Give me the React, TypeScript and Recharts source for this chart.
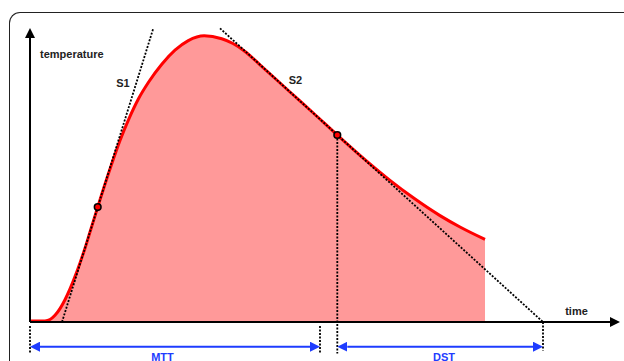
import React from 'react';
import { ComposedChart, Area, Line, XAxis, YAxis, ReferenceLine, ReferenceDot } from 'recharts';

// Thermodilution-like curve (time, temperature in arbitrary units)
const curveTime = [0, 1, 1.5, 2, 2.5, 3, 3.5, 4, 4.5, 5, 5.5, 6, 6.77, 8.1, 9.0, 9.9, 10.85, 11.85, 13.2, 14.5, 15.83, 17.42, 19.17, 20.3, 21.5, 23, 26, 28.33, 30.73, 33.67, 36, 38.33, 41, 43, 45.5];
const curveTemp = [0.03, 0.03, 0.035, 0.083, 0.223, 0.447, 0.743, 1.103, 1.513, 1.97, 2.46, 3.0, 3.83, 5.2, 6.05, 6.78, 7.44, 7.99, 8.6, 9.06, 9.38, 9.54, 9.44, 9.283, 9.017, 8.573, 7.667, 6.967, 6.233, 5.363, 4.722, 4.139, 3.546, 3.166, 2.753];

// Tangent lines S1 (upslope) and S2 (downslope)
const s1Time = [3.2, 12.33];
const s1Temp = [0, 9.79];
const s2Time = [19, 51.3];
const s2Temp = [9.79, 0];

// Tangent points
const tangentPointTime = [6.77, 30.73];
const tangentPointTemp = [3.83, 6.233];

// Intervals: MTT and DST
const mttRange = [0, 29];
const dstRange = [30.73, 51.3];
const intervalLabels = ['MTT', 'DST'];

// Axis extents
const timeMax = 59;
const tempMin = -1.3;
const tempMax = 10;
const xAxisEnd = 58;
const yAxisEnd = 9.467;
const arrowLevel = -0.823;
const guideBottom = -1.05;
const head = 1.0;

const curveData = curveTime.map((t, i) => ({ t, v: curveTemp[i] }));
const s1Data = s1Time.map((t, i) => ({ t, v: s1Temp[i] }));
const s2Data = s2Time.map((t, i) => ({ t, v: s2Temp[i] }));

const guides = [
  [{ t: mttRange[0], v: -0.13 }, { t: mttRange[0], v: guideBottom }],
  [{ t: mttRange[1], v: -0.13 }, { t: mttRange[1], v: guideBottom }],
  [{ t: dstRange[0], v: tangentPointTemp[1] }, { t: dstRange[0], v: guideBottom }],
  [{ t: dstRange[1], v: 0 }, { t: dstRange[1], v: -0.95 }],
];

const BLUE = '#1E3CFF';
const FONT = '"Liberation Sans", Arial, sans-serif';
const dotted = { stroke: '#000', strokeWidth: 1.8, strokeDasharray: '2 1.5' };

export default function App() {
  return (
    <div style={{ position: 'absolute', left: 0, top: 0, width: 624, height: 361, overflow: 'hidden', background: '#fff' }}>
      <div
        style={{
          position: 'absolute',
          left: 9,
          top: 12,
          width: 800,
          height: 500,
          borderTop: '1.5px solid #222',
          borderLeft: '1.5px solid #222',
          borderTopLeftRadius: 11,
          boxSizing: 'border-box',
        }}
      />
      <div style={{ position: 'absolute', left: 0, top: 0 }}>
        <ComposedChart width={624} height={361} margin={{ top: 22, right: 4, bottom: 0, left: 30 }}>
          <defs>
            <marker id="arrBlack" viewBox="0 0 10 10" refX="0" refY="5" markerWidth="10" markerHeight="10" markerUnits="userSpaceOnUse" orient="auto-start-reverse">
              <path d="M0,0 L10,5 L0,10 z" fill="#000" />
            </marker>
            <marker id="arrBlue" viewBox="0 0 10 10" refX="0" refY="5" markerWidth="10" markerHeight="10" markerUnits="userSpaceOnUse" orient="auto-start-reverse">
              <path d="M0,0 L10,5 L0,10 z" fill={BLUE} />
            </marker>
          </defs>
          <XAxis type="number" dataKey="t" domain={[0, timeMax]} hide />
          <YAxis type="number" domain={[tempMin, tempMax]} hide />
          <Area
            data={curveData}
            dataKey="v"
            type="monotone"
            baseValue={0}
            fill="#FF9999"
            fillOpacity={1}
            stroke="#FF0000"
            strokeWidth={3}
            isAnimationActive={false}
            dot={false}
            activeDot={false}
          />
          <ReferenceLine segment={[{ x: 0, y: 0 }, { x: xAxisEnd, y: 0 }]} stroke="#000" strokeWidth={2} markerEnd="url(#arrBlack)" ifOverflow="visible" />
          <ReferenceLine segment={[{ x: 0, y: 0 }, { x: 0, y: yAxisEnd }]} stroke="#000" strokeWidth={2} markerEnd="url(#arrBlack)" ifOverflow="visible" />
          <Line data={s1Data} dataKey="v" type="linear" dot={false} activeDot={false} isAnimationActive={false} {...dotted} />
          <Line data={s2Data} dataKey="v" type="linear" dot={false} activeDot={false} isAnimationActive={false} {...dotted} />
          {guides.map((g, i) => (
            <Line key={'g' + i} data={g} dataKey="v" type="linear" dot={false} activeDot={false} isAnimationActive={false} {...dotted} />
          ))}
          <ReferenceLine
            segment={[{ x: mttRange[0] + head, y: arrowLevel }, { x: mttRange[1] - head, y: arrowLevel }]}
            stroke={BLUE}
            strokeWidth={2}
            markerStart="url(#arrBlue)"
            markerEnd="url(#arrBlue)"
            ifOverflow="visible"
          />
          <ReferenceLine
            segment={[{ x: dstRange[0] + head, y: arrowLevel }, { x: dstRange[1] - head, y: arrowLevel }]}
            stroke={BLUE}
            strokeWidth={2}
            markerStart="url(#arrBlue)"
            markerEnd="url(#arrBlue)"
            ifOverflow="visible"
          />
          {tangentPointTime.map((t, i) => (
            <ReferenceDot key={'p' + i} x={t} y={tangentPointTemp[i]} r={3.3} fill="#FF0000" stroke="#000" strokeWidth={1.6} ifOverflow="visible" />
          ))}
          <text x={40} y={57.7} fontFamily={FONT} fontSize={11} fontWeight="bold" fill="#222">temperature</text>
          <text x={123} y={87.3} textAnchor="middle" fontFamily={FONT} fontSize={11} fontWeight="bold" fill="#222">S1</text>
          <text x={295.5} y={83.7} textAnchor="middle" fontFamily={FONT} fontSize={11} fontWeight="bold" fill="#222">S2</text>
          <text x={576.5} y={314.5} textAnchor="middle" fontFamily={FONT} fontSize={11} fontWeight="bold" fill="#222">time</text>
          <text x={162.5} y={361} textAnchor="middle" fontFamily={FONT} fontSize={11} fontWeight="bold" fill={BLUE}>{intervalLabels[0]}</text>
          <text x={444} y={360.5} textAnchor="middle" fontFamily={FONT} fontSize={11} fontWeight="bold" fill={BLUE}>{intervalLabels[1]}</text>
        </ComposedChart>
      </div>
    </div>
  );
}
